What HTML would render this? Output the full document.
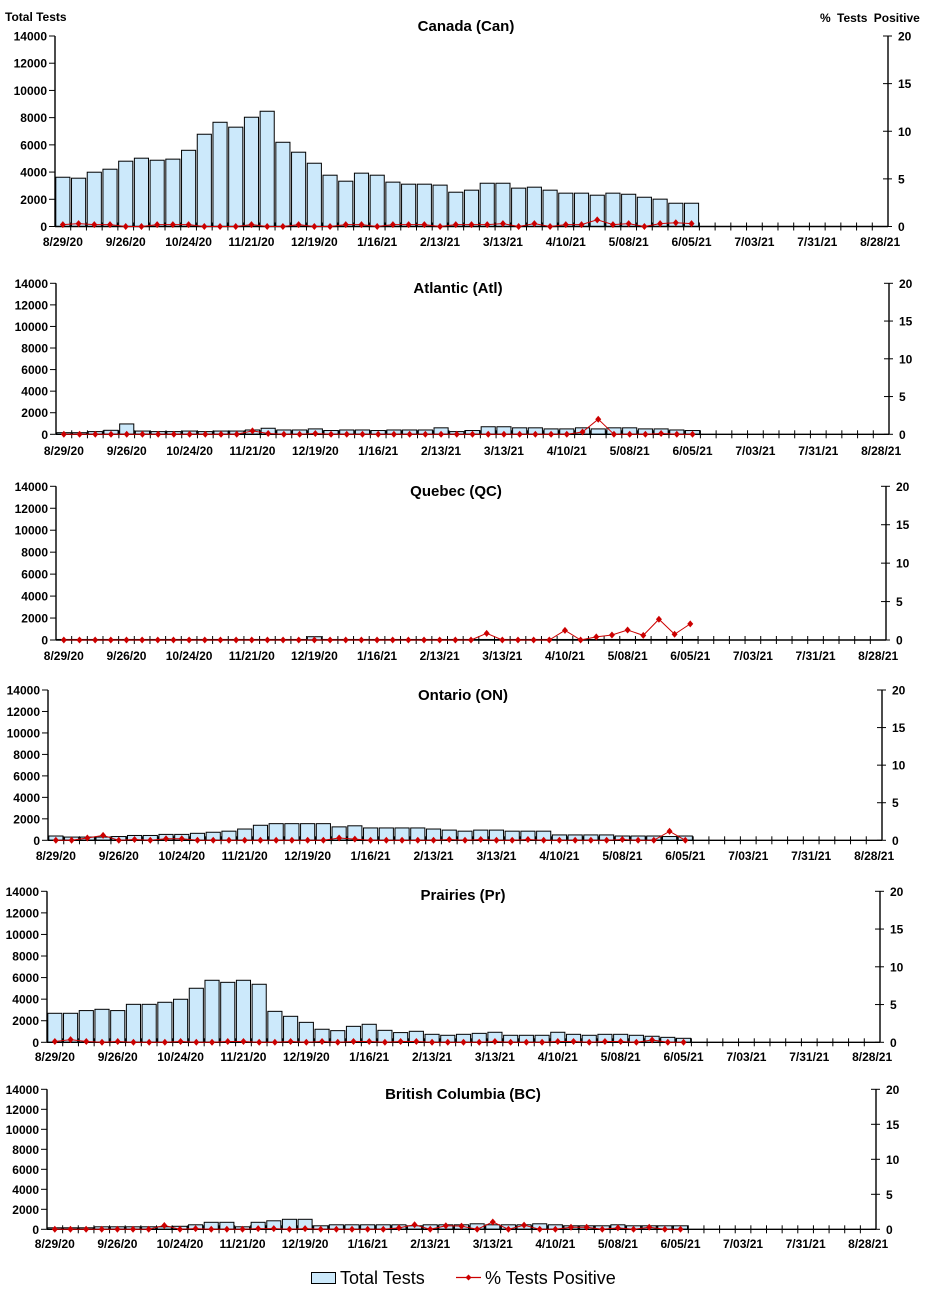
<!DOCTYPE html>
<html><head><meta charset="utf-8">
<style>
html,body{margin:0;padding:0;background:#fff;}
svg{display:block;font-family:"Liberation Sans",Arial,sans-serif;}
.tk{font-size:12px;font-weight:bold;fill:#000;}
.ti{font-size:15px;font-weight:bold;fill:#000;}
</style></head>
<body>
<svg id="chart" width="928" height="1300" viewBox="0 0 928 1300">
<text x="5" y="21" class="tk">Total Tests</text>
<text x="820" y="22" class="tk" style="word-spacing:3px">% Tests  Positive</text>
<g>
  <rect x="311.5" y="1272.5" width="24" height="11" fill="#cce9fb" stroke="#000"/>
  <text x="340" y="1284" font-size="18">Total Tests</text>
  <line x1="456" y1="1277.5" x2="481" y2="1277.5" stroke="#cc0000" stroke-width="1.2"/>
  <path d="M468.5 1274.5 L471.5 1277.5 L468.5 1280.5 L465.5 1277.5Z" fill="#cc0000"/>
  <text x="485" y="1284" font-size="18">% Tests Positive</text>
</g>
</svg>
<script>
const xLabels = ["8/29/20","9/26/20","10/24/20","11/21/20","12/19/20","1/16/21","2/13/21","3/13/21","4/10/21","5/08/21","6/05/21","7/03/21","7/31/21","8/28/21"];
const leftTicks = [0,2000,4000,6000,8000,10000,12000,14000];
const rightTicks = [0,5,10,15,20];
const panelTitles = ["Canada (Can)","Atlantic (Atl)","Quebec (QC)","Ontario (ON)","Prairies (Pr)","British Columbia (BC)"];
const canTests = [3620,3550,3990,4210,4800,5020,4870,4950,5600,6780,7660,7300,8030,8470,6190,5460,4650,3770,3330,3920,3770,3260,3110,3110,3040,2520,2670,3180,3180,2820,2890,2670,2450,2450,2300,2450,2370,2150,2010,1710,1710];
const canPos = [0.2,0.3,0.2,0.2,0,0,0.2,0.2,0.2,0,0,0,0.2,0,0,0.2,0,0,0.2,0.2,0,0.2,0.2,0.2,0,0.2,0.2,0.2,0.3,0,0.3,0,0.2,0.2,0.7,0.2,0.3,0,0.3,0.4,0.3];
const atlTests = [150,150,250,370,960,300,250,250,300,250,300,300,400,560,400,400,500,350,400,400,350,400,400,400,600,250,350,700,700,600,600,500,500,600,500,600,600,500,500,400,350];
const atlPos = [0,0,0,0,0,0,0,0,0,0,0,0,0.45,0.1,0,0,0.1,0,0,0,0,0,0,0,0,0,0,0,0,0,0,0,0,0.3,2.0,0,0,0,0.1,0,0];
const qcTests = [50,50,50,50,50,50,50,50,50,50,50,50,50,50,50,50,300,50,50,50,50,50,50,50,50,50,50,50,50,50,50,50,50,50,50,50,50,50,50,50,50];
const qcPos = [0,0,0,0,0,0,0,0,0,0,0,0,0,0,0,0,0,0,0,0,0,0,0,0,0,0,0,0.87,0,0,0,0,1.26,0,0.4,0.65,1.3,0.6,2.7,0.75,2.1];
const onTests = [400,300,300,300,350,450,450,550,550,650,750,850,1050,1400,1550,1550,1550,1550,1250,1350,1150,1150,1150,1150,1050,950,850,950,950,850,850,850,500,500,500,500,400,400,400,350,400];
const onPos = [0,0,0.3,0.66,0,0.1,0,0.2,0.2,0,0,0,0,0,0,0,0,0,0.3,0.15,0,0,0,0,0,0.1,0,0.1,0,0,0.1,0,0,0,0,0,0.1,0,0,1.2,0];
const prTests = [2690,2690,2940,3060,2940,3520,3520,3710,3990,5010,5750,5560,5750,5380,2870,2410,1850,1210,1080,1480,1670,1110,900,1020,740,650,740,830,930,650,650,650,930,740,650,740,740,650,560,460,370];
const prPos = [0.1,0.35,0.1,0,0.1,0,0,0,0.1,0,0,0.1,0.1,0,0,0.1,0,0.1,0,0.1,0.1,0,0.1,0.1,0,0,0,0,0.1,0,0,0,0.1,0.1,0,0.1,0.1,0,0.3,0,0];
const bcTests = [150,150,150,250,250,250,250,250,300,450,700,700,250,700,850,1000,1000,350,450,450,450,450,450,350,450,450,450,550,450,450,450,550,450,350,350,350,450,350,350,350,350];
const bcPos = [0,0,0,0,0,0,0,0.55,0,0.1,0,0,0,0.1,0.1,0,0.1,0,0,0,0,0,0.2,0.65,0,0.5,0.45,0,1.05,0,0.6,0,0,0.3,0.3,0,0.2,0,0.3,0,0];
const testsSeries = [canTests,atlTests,qcTests,onTests,prTests,bcTests];
const posSeries = [canPos,atlPos,qcPos,onPos,prPos,bcPos];
const panelKeys = ["canada","atlantic","quebec","ontario","prairies","bc"];

const layout = [
  {l:55,r:888,t:36,b:226.5,ty:31,tx:466,ly:246},
  {l:56,r:889,t:283.3,b:434.3,ty:293,tx:458,ly:455},
  {l:56,r:886,t:486.3,b:640,ty:496,tx:456,ly:660},
  {l:48,r:882,t:690,b:840.3,ty:700,tx:463,ly:860},
  {l:47,r:880,t:891.3,b:1042.3,ty:900,tx:463,ly:1061},
  {l:47,r:876,t:1089.3,b:1229.3,ty:1099,tx:463,ly:1248}
];
const NS = "http://www.w3.org/2000/svg";
const svg = document.getElementById("chart");
function mk(tag, attrs, parent){
  const e = document.createElementNS(NS, tag);
  for (const k in attrs) e.setAttribute(k, attrs[k]);
  parent.appendChild(e);
  return e;
}
const NSLOT = 53;
panelKeys.forEach((key, p) => {
  const L = layout[p];
  const g = mk("g", {}, svg);
  
  
  const slot = (L.r - L.l) / NSLOT;
  const xC = i => L.l + slot * (i + 0.5);
  const yL = v => L.b - (v / 14000) * (L.b - L.t);
  const yR = v => L.b - (v / 20) * (L.b - L.t);
  const t = mk("text", {x:L.tx, y:L.ty, "text-anchor":"middle", class:"ti"}, g);
  t.textContent = panelTitles[p];
  
  
  testsSeries[p].forEach((v, i) => {
    const y = yL(v);
    const b = mk("rect", {x:(xC(i) - slot/2 + 0.8).toFixed(2), y:y.toFixed(2), width:(slot - 1.6).toFixed(2), height:Math.max(0, L.b - y).toFixed(2), fill:"#cce9fb", stroke:"#000", "stroke-width":1}, g);
    
    
  });
  mk("line", {x1:L.l, y1:L.t, x2:L.l, y2:L.b, stroke:"#000", "stroke-width":1.4}, g);
  mk("line", {x1:L.r, y1:L.t, x2:L.r, y2:L.b, stroke:"#000", "stroke-width":1.4}, g);
  mk("line", {x1:L.l, y1:L.b, x2:L.r, y2:L.b, stroke:"#000", "stroke-width":1.4}, g);
  leftTicks.forEach(v => {
    const y = yL(v);
    mk("line", {x1:L.l - 6, y1:y, x2:L.l, y2:y, stroke:"#000"}, g);
    const tx = mk("text", {x:L.l - 8, y:y + 4.5, "text-anchor":"end", class:"tk"}, g);
    tx.textContent = v;
    
    
  });
  rightTicks.forEach(v => {
    const y = yR(v);
    mk("line", {x1:L.r - 5, y1:y, x2:L.r + 4, y2:y, stroke:"#000"}, g);
    const tx = mk("text", {x:L.r + 10, y:y + 4.5, class:"tk"}, g);
    tx.textContent = v;
    
    
  });
  for (let i = 1; i < NSLOT; i++) {
    const x = L.l + slot * i;
    mk("line", {x1:x, y1:L.b - 4, x2:x, y2:L.b + 4, stroke:"#000"}, g);
  }
  xLabels.forEach((lab, j) => {
    const tx = mk("text", {x:xC(j * 4), y:L.ly, "text-anchor":"middle", class:"tk"}, g);
    tx.textContent = lab;
    
    
  });
  const pts = posSeries[p].map((v, i) => xC(i).toFixed(2) + "," + yR(v).toFixed(2)).join(" ");
  const pl = mk("polyline", {points:pts, fill:"none", stroke:"#cc0000", "stroke-width":1}, g);
  
  
  posSeries[p].forEach((v, i) => {
    const x = xC(i), y = yR(v);
    const d = mk("path", {d:`M${x} ${y-3.5} L${x+3} ${y} L${x} ${y+3.5} L${x-3} ${y}Z`, fill:"#cc0000"}, g);
    
    
  });
});
</script>
</body></html>
